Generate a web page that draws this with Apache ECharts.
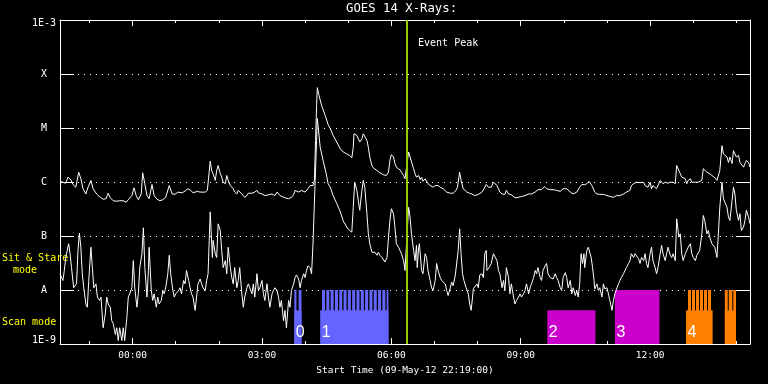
<!DOCTYPE html>
<html><head><meta charset="utf-8">
<script src="https://cdn.jsdelivr.net/npm/echarts@6/dist/echarts.min.js"></script>
<style>html,body{margin:0;padding:0;background:#000;}#c{width:768px;height:384px;}</style>
</head><body><div id="c"></div>
<script>
// ---------- data (time = minutes elapsed since start 09-May-12 22:19:00) ----------
const chartTitle = 'GOES 14 X-Rays:';
const xAxisTitle = 'Start Time (09-May-12 22:19:00)';
const eventLabel = 'Event Peak';
const spanMin = 960;
const majorTickMin = [101, 281, 461, 641, 821];
const majorTickLabels = ['00:00', '03:00', '06:00', '09:00', '12:00'];
const minorTickMin = [41, 161, 221, 341, 401, 521, 581, 701, 761, 881, 941];
const yLevelNames = ['1E-9', 'A', 'B', 'C', 'M', 'X', '1E-3'];

// long channel (upper curve), [minute, W/m^2]
const longChannel = [[0,1.03e-6],[4,0.99e-6],[8,0.95e-6],[11,1.23e-6],[15,1.10e-6],[18,9.0e-7],[22,8.0e-7],[26,1.52e-6],[29,1.15e-6],[32,7.5e-7],[36,6.0e-7],[39,8.0e-7],[43,1.07e-6],[46,7.5e-7],[51,6.0e-7],[56,5.2e-7],[60,4.8e-7],[64,4.9e-7],[67,6.2e-7],[70,5.1e-7],[74,4.5e-7],[79,4.4e-7],[83,4.5e-7],[88,4.5e-7],[92,4.2e-7],[95,4.7e-7],[100,5.6e-7],[103,7.8e-7],[106,5.6e-7],[109,4.7e-7],[113,6.0e-7],[115,1.48e-6],[118,9.3e-7],[121,5.6e-7],[124,4.9e-7],[128,9.0e-7],[131,5.6e-7],[135,4.8e-7],[139,4.5e-7],[143,4.7e-7],[147,5.2e-7],[152,8.6e-7],[156,6.0e-7],[160,5.9e-7],[164,6.5e-7],[170,6.3e-7],[174,6.8e-7],[178,7.5e-7],[182,7.0e-7],[185,6.3e-7],[191,6.7e-7],[195,6.5e-7],[197,6.3e-7],[202,6.5e-7],[205,7.0e-7],[209,2.43e-6],[211,1.63e-6],[213,1.42e-6],[216,1.07e-6],[218,1.63e-6],[220,2.02e-6],[223,1.42e-6],[225,1.23e-6],[227,9.9e-7],[230,9.3e-7],[232,1.32e-6],[234,1.07e-6],[237,8.6e-7],[239,9.3e-7],[241,7.5e-7],[243,6.5e-7],[246,6.0e-7],[248,7.0e-7],[250,7.5e-7],[253,6.0e-7],[255,5.6e-7],[257,5.2e-7],[260,5.6e-7],[262,6.2e-7],[267,6.2e-7],[271,6.5e-7],[274,7.0e-7],[276,6.3e-7],[281,6.0e-7],[285,5.6e-7],[290,5.8e-7],[295,6.0e-7],[299,5.6e-7],[302,6.5e-7],[304,6.0e-7],[306,5.6e-7],[308,5.2e-7],[313,5.1e-7],[318,4.9e-7],[320,4.7e-7],[322,5.2e-7],[325,5.8e-7],[327,7.0e-7],[329,6.5e-7],[332,6.5e-7],[336,7.0e-7],[341,6.5e-7],[345,7.5e-7],[348,8.6e-7],[350,8.0e-7],[352,8.6e-7],[354,1.07e-6],[355.5,5.9e-6],[357,2.6e-5],[358,5.6e-5],[360,4.2e-5],[364,2.6e-5],[369,1.7e-5],[373,1.16e-5],[376,9.7e-6],[380,7.3e-6],[385,5.5e-6],[390,4.1e-6],[394,3.6e-6],[399,3.3e-6],[403,3.1e-6],[406,2.8e-6],[408,4.4e-6],[409,7.8e-6],[413,7.3e-6],[415,6.8e-6],[417,5.5e-6],[420,6.3e-6],[422,7.8e-6],[424,8.4e-6],[427,5.9e-6],[429,4.4e-6],[431,2.9e-6],[434,2.0e-6],[436,1.83e-6],[441,1.63e-6],[445,1.48e-6],[450,1.36e-6],[454,1.32e-6],[457,1.52e-6],[459,2.5e-6],[461,3.2e-6],[464,2.9e-6],[466,2.2e-6],[468,1.88e-6],[473,1.68e-6],[475,1.52e-6],[478,1.32e-6],[480,1.15e-6],[485,3.6e-6],[487,2.9e-6],[489,2.7e-6],[492,1.76e-6],[494,1.42e-6],[496,1.23e-6],[499,1.32e-6],[501,1.10e-6],[503,1.23e-6],[505,1.03e-6],[508,1.15e-6],[510,1.07e-6],[512,9.3e-7],[515,8.6e-7],[519,8.0e-7],[522,8.6e-7],[524,9.3e-7],[526,8.6e-7],[529,8.0e-7],[533,7.5e-7],[538,6.5e-7],[543,6.2e-7],[547,6.2e-7],[551,7.0e-7],[553,8.0e-7],[556,1.52e-6],[558,1.07e-6],[561,7.5e-7],[566,6.5e-7],[570,6.2e-7],[573,6.0e-7],[577,5.6e-7],[582,5.9e-7],[587,6.5e-7],[590,7.5e-7],[593,9.0e-7],[596,8.0e-7],[600,8.0e-7],[603,9.9e-7],[605,9.9e-7],[608,8.6e-7],[610,7.5e-7],[612,6.5e-7],[615,6.0e-7],[617,6.2e-7],[619,5.9e-7],[621,7.0e-7],[624,6.0e-7],[628,5.8e-7],[633,5.1e-7],[638,5.2e-7],[642,5.4e-7],[647,5.6e-7],[652,6.0e-7],[654,5.6e-7],[656,6.0e-7],[661,6.5e-7],[665,7.2e-7],[670,7.2e-7],[674,8.2e-7],[677,7.5e-7],[682,7.2e-7],[686,7.2e-7],[691,7.0e-7],[696,6.7e-7],[700,7.5e-7],[705,7.5e-7],[710,6.5e-7],[714,6.0e-7],[719,6.5e-7],[723,8.0e-7],[726,9.0e-7],[730,8.9e-7],[733,9.3e-7],[736,1.03e-6],[740,8.6e-7],[742,8.0e-7],[744,6.5e-7],[747,6.0e-7],[749,6.5e-7],[751,5.9e-7],[756,5.9e-7],[761,5.6e-7],[765,5.4e-7],[770,5.2e-7],[774,5.6e-7],[779,5.6e-7],[784,6.0e-7],[788,6.5e-7],[793,7.0e-7],[795,8.6e-7],[798,9.3e-7],[802,9.9e-7],[807,9.7e-7],[809,9.3e-7],[812,9.9e-7],[814,8.6e-7],[816,9.3e-7],[818,8.0e-7],[821,9.9e-7],[823,7.5e-7],[825,8.6e-7],[830,7.5e-7],[832,7.0e-7],[835,1.07e-6],[837,9.9e-7],[839,9.3e-7],[842,9.9e-7],[844,1.03e-6],[846,9.5e-7],[849,9.9e-7],[851,9.3e-7],[853,9.9e-7],[856,9.3e-7],[858,2.02e-6],[860,1.88e-6],[863,1.42e-6],[865,1.23e-6],[867,1.32e-6],[870,1.15e-6],[872,9.3e-7],[874,1.07e-6],[877,1.15e-6],[879,9.9e-7],[881,9.5e-7],[884,9.9e-7],[886,9.3e-7],[888,9.9e-7],[890,9.5e-7],[893,1.07e-6],[895,1.76e-6],[897,1.63e-6],[900,1.52e-6],[902,1.63e-6],[904,1.42e-6],[907,1.32e-6],[909,1.23e-6],[911,1.2e-6],[914,1.07e-6],[916,1.15e-6],[918,1.63e-6],[921,4.7e-6],[923,3.3e-6],[925,3.3e-6],[928,2.9e-6],[930,2.3e-6],[932,2.9e-6],[935,2.2e-6],[937,3.8e-6],[939,4.1e-6],[941,2.9e-6],[944,3.1e-6],[946,2.3e-6],[948,2.2e-6],[951,1.88e-6],[953,2.2e-6],[955,2.5e-6],[958,2.3e-6],[960,1.88e-6]];

// short channel (lower curve), [minute, W/m^2]
const shortChannel = [[0,2.0e-8],[4,1.5e-8],[6,2.3e-8],[8,4.0e-8],[12,7.2e-8],[14,4.7e-8],[16,2.6e-8],[19,1.1e-8],[21,1.05e-8],[23,1.3e-8],[25,5.4e-8],[27,1.13e-7],[29,6.2e-8],[31,2.0e-8],[33,1.1e-8],[36,5.5e-9],[38,4.8e-9],[40,1.5e-8],[43,6.2e-8],[45,2.6e-8],[47,1.1e-8],[50,1.3e-8],[52,7.4e-9],[55,6.4e-9],[57,7.4e-9],[60,2.0e-9],[63,3.6e-9],[65,7.4e-9],[67,5.5e-9],[70,4.8e-9],[72,2.7e-9],[74,2.4e-9],[77,1.5e-9],[79,2.0e-9],[81,1.16e-9],[83,2.0e-9],[86,1.16e-9],[88,2.0e-9],[90,1.16e-9],[93,3.1e-9],[95,7.4e-9],[97,8.5e-9],[100,1.1e-8],[102,3.5e-8],[104,1.1e-8],[107,4.8e-9],[109,8.5e-9],[111,2.6e-8],[114,4.7e-8],[116,1.42e-7],[118,2.6e-8],[121,7.4e-9],[123,2.3e-8],[124,6.2e-8],[127,9.8e-9],[129,6.4e-9],[131,8.5e-9],[134,4.8e-9],[136,7.4e-9],[138,5.5e-9],[141,6.4e-9],[143,9.8e-9],[145,8.5e-9],[147,1.1e-8],[150,2.0e-8],[152,4.4e-8],[154,2.0e-8],[157,9.8e-9],[159,7.4e-9],[161,8.5e-9],[165,9.8e-9],[167,1.1e-8],[169,8.5e-9],[172,1.5e-8],[174,1.3e-8],[176,2.3e-8],[179,1.5e-8],[181,1.1e-8],[183,8.5e-9],[185,7.4e-9],[188,4.2e-9],[190,7.4e-9],[192,1.3e-8],[195,1.6e-8],[197,1.3e-8],[199,1.1e-8],[202,9.8e-9],[204,1.5e-8],[206,2.0e-8],[209,2.8e-7],[210,1.46e-7],[212,4.0e-8],[213,8.3e-8],[216,4.7e-8],[218,4.0e-8],[220,1.68e-7],[223,1.26e-7],[225,5.4e-8],[227,2.6e-8],[230,3.5e-8],[232,2.0e-8],[234,6.2e-8],[237,2.6e-8],[239,1.7e-8],[241,1.3e-8],[243,2.6e-8],[246,1.1e-8],[248,1.5e-8],[250,2.6e-8],[253,8.5e-9],[255,4.8e-9],[257,7.4e-9],[260,1.1e-8],[262,1.3e-8],[264,1.1e-8],[267,8.5e-9],[269,1.3e-8],[271,7.4e-9],[274,2.0e-8],[276,9.8e-9],[278,1.1e-8],[281,1.5e-8],[283,8.5e-9],[285,6.4e-9],[288,1.3e-8],[290,7.4e-9],[292,4.8e-9],[295,8.5e-9],[297,9.8e-9],[299,1.1e-8],[302,9.8e-9],[304,7.4e-9],[306,4.8e-9],[308,6.4e-9],[311,2.7e-9],[313,4.2e-9],[315,2.0e-9],[318,6.4e-9],[320,4.8e-9],[322,9.8e-9],[325,1.3e-8],[327,1.7e-8],[329,1.9e-8],[332,1.6e-8],[334,1.1e-8],[336,1.5e-8],[339,2.0e-8],[341,1.7e-8],[343,2.3e-8],[345,2.8e-8],[348,2.6e-8],[350,2.0e-8],[352,7.2e-8],[355,1.07e-6],[357,5.9e-6],[358,1.5e-5],[359,1.11e-5],[362,4.4e-6],[366,2.5e-6],[370,1.5e-6],[373,9.3e-7],[376,8.0e-7],[380,5.6e-7],[385,4.0e-7],[390,2.8e-7],[394,1.9e-7],[399,1.46e-7],[403,1.26e-7],[406,1.18e-7],[408,3.4e-7],[410,9.9e-7],[413,7.0e-7],[415,4.5e-7],[417,3.0e-7],[420,7.0e-7],[422,1.07e-6],[424,8.0e-7],[427,2.6e-7],[429,1.1e-7],[431,7.2e-8],[434,5.0e-8],[436,4.7e-8],[438,5.0e-8],[441,4.4e-8],[443,5.0e-8],[445,4.4e-8],[448,4.0e-8],[450,3.8e-8],[452,3.3e-8],[455,4.0e-8],[457,9.5e-8],[459,1.94e-7],[461,3.2e-7],[464,2.58e-7],[466,1.46e-7],[468,7.2e-8],[471,6.2e-8],[473,5.4e-8],[475,4.7e-8],[478,3.5e-8],[480,2.3e-8],[485,3.4e-7],[487,2.23e-7],[489,1.1e-7],[492,5.4e-8],[494,3.5e-8],[496,6.7e-8],[497,2.6e-8],[499,6.2e-8],[500,7.2e-8],[502,3.5e-8],[503,2.3e-8],[505,2.0e-8],[508,4.7e-8],[510,4.0e-8],[512,2.3e-8],[515,1.5e-8],[517,1.1e-8],[519,9.8e-9],[522,1.5e-8],[524,3.1e-8],[526,2.3e-8],[529,1.7e-8],[531,1.5e-8],[533,1.5e-8],[536,1.3e-8],[538,9.8e-9],[540,7.9e-9],[543,1.1e-8],[545,1.4e-8],[547,1.2e-8],[550,1.9e-8],[552,2.0e-8],[554,5.4e-8],[556,1.36e-7],[558,4.7e-8],[560,2.0e-8],[562,1.5e-8],[565,1.1e-8],[568,8.5e-9],[570,5.5e-9],[572,4.2e-9],[574,7.4e-9],[575,1.05e-8],[577,1.05e-8],[580,1.3e-8],[582,1.1e-8],[584,1.9e-8],[587,2.0e-8],[589,1.7e-8],[591,4.7e-8],[593,5.4e-8],[594,2.3e-8],[597,2.6e-8],[600,3.1e-8],[603,4.7e-8],[605,4.7e-8],[608,3.5e-8],[610,2.3e-8],[612,2.0e-8],[615,1.1e-8],[617,1.5e-8],[619,9.8e-9],[621,2.6e-8],[624,1.7e-8],[626,8.5e-9],[628,1.3e-8],[631,7.4e-9],[633,5.5e-9],[635,6.4e-9],[638,7.4e-9],[640,8.5e-9],[642,7.4e-9],[645,8.5e-9],[647,9.8e-9],[649,1.3e-8],[652,8.5e-9],[654,1.1e-8],[656,1.3e-8],[659,1.7e-8],[661,2.3e-8],[663,2.0e-8],[665,2.6e-8],[668,1.7e-8],[670,1.5e-8],[672,2.3e-8],[675,2.8e-8],[677,3.1e-8],[679,2.0e-8],[682,1.7e-8],[684,1.7e-8],[686,1.6e-8],[689,2.0e-8],[691,1.7e-8],[693,1.5e-8],[696,1.1e-8],[698,9.8e-9],[700,1.7e-8],[703,2.1e-8],[705,1.7e-8],[707,1.1e-8],[710,1.5e-8],[712,8.5e-9],[714,1.1e-8],[717,7.9e-9],[719,9.8e-9],[721,7.4e-9],[723,1.3e-8],[725,4.7e-8],[727,3.1e-8],[729,4.7e-8],[730,2.6e-8],[733,5.4e-8],[735,6.2e-8],[736,6.7e-8],[739,4.0e-8],[741,2.6e-8],[743,1.5e-8],[744,1.05e-8],[747,1.3e-8],[749,9.8e-9],[751,1.1e-8],[754,7.4e-9],[756,1.3e-8],[758,1.05e-8],[761,1.1e-8],[763,8.5e-9],[765,6.4e-9],[768,4.2e-9],[770,6.4e-9],[772,8.5e-9],[775,1.1e-8],[777,1.3e-8],[779,1.5e-8],[781,1.7e-8],[784,2.0e-8],[786,2.1e-8],[788,2.6e-8],[791,3.1e-8],[793,3.5e-8],[795,4.7e-8],[798,4.0e-8],[800,4.7e-8],[802,4.4e-8],[805,3.8e-8],[807,3.1e-8],[809,4.0e-8],[812,3.5e-8],[814,4.7e-8],[816,3.1e-8],[818,2.6e-8],[821,4.7e-8],[823,6.2e-8],[825,3.5e-8],[828,2.6e-8],[830,2.0e-8],[832,2.6e-8],[835,4.7e-8],[837,6.7e-8],[839,4.7e-8],[842,3.5e-8],[844,4.7e-8],[846,6.2e-8],[849,4.4e-8],[851,4.0e-8],[853,4.7e-8],[856,3.5e-8],[858,2.08e-7],[859,2.23e-7],[861,9.5e-8],[863,1.1e-7],[865,4.7e-8],[867,3.5e-8],[870,4.7e-8],[872,5.4e-8],[874,6.2e-8],[877,7.2e-8],[879,4.7e-8],[881,4.0e-8],[884,3.5e-8],[886,4.4e-8],[888,4.7e-8],[890,5.4e-8],[893,1.1e-7],[895,2.4e-7],[897,1.94e-7],[900,1.1e-7],[902,1.26e-7],[904,9.5e-8],[907,7.2e-8],[909,6.7e-8],[911,6.2e-8],[914,4.0e-8],[916,1.1e-7],[918,3.4e-7],[921,9.9e-7],[923,4.9e-7],[925,4.5e-7],[928,3.4e-7],[930,2.23e-7],[932,1.94e-7],[935,4.5e-7],[937,8.0e-7],[939,6.0e-7],[941,3.0e-7],[944,1.94e-7],[946,2.58e-7],[948,1.26e-7],[951,1.46e-7],[953,1.94e-7],[955,3.0e-7],[958,2.23e-7],[960,1.68e-7]];

const eventPeakMin = [482.8];

// observing modes: [startMin, endMin, colourIndex]
const modeColors = ['#6464ff', '#cc00cc', '#ff8000'];
const scanLevel = 4.2e-9;
const sitStareLevel = 1e-8;
const scanBlocks = [[326,336,0],[362,457,0],[678,745,1],[871,908,2],[925,940.5,2]];
const sitStareBlocks = [[326,329,0],[332,336,0],
  [364.5,368.7,0],[370.5,374.7,0],[376.5,380.7,0],[382.5,386.7,0],[388.5,392.7,0],[394.5,398.7,0],[400.5,404.7,0],[406.5,410.7,0],
  [412.5,416.7,0],[418.5,422.7,0],[424.5,428.7,0],[430.5,434.7,0],[436.5,440.7,0],[442.5,446.7,0],[448.5,452.7,0],[454.5,457,0],
  [772,834,1],
  [873.7,877.9,2],[879.3,883.5,2],[884.9,889.1,2],[890.4,894.6,2],[896,900.2,2],[901.6,905.8,2],
  [925,929,2],[930.4,935.4,2],[936.8,940.5,2]];
const groupLabels = ['0', '1', '2', '3', '4'];
const groupStartMin = [326, 362, 678, 772, 871];

// ---------- chart ----------
const MONO = '"DejaVu Sans Mono", monospace';
const Y_MIN = 1e-9, Y_MAX = 1e-3;
const chart = echarts.init(document.getElementById('c'), null, {renderer: 'canvas'});

function blockSeries(blocks, level, z) {
  return {
    type: 'custom', silent: true, z: z, clip: true,
    data: blocks.map(b => [b[0], b[1], level, b[2]]),
    encode: {x: [0, 1], y: 2},
    renderItem: (params, api) => {
      const p0 = api.coord([api.value(0), api.value(2)]);
      const p1 = api.coord([api.value(1), Y_MIN]);
      return {type: 'rect', shape: {x: p0[0], y: p0[1], width: p1[0] - p0[0], height: p1[1] - p0[1]},
        style: {fill: modeColors[api.value(3)]}};
    }
  };
}

function xAxisDef(pos, ticks, len, withLabels, withLine) {
  const a = {
    type: 'value', min: 0, max: spanMin, position: pos,
    axisLine: {show: withLine, onZero: false, lineStyle: {color: '#fff', width: 1}},
    axisTick: {show: true, inside: true, length: len, customValues: ticks, lineStyle: {color: '#fff', width: 1}},
    axisLabel: {show: withLabels},
    splitLine: {show: false}
  };
  if (withLabels) {
    a.axisLabel = {show: true, customValues: ticks, color: '#fff', fontSize: 9.5, fontFamily: MONO, margin: 7,
      formatter: v => majorTickLabels[majorTickMin.indexOf(Math.round(v))] || ''};
    a.name = xAxisTitle; a.nameLocation = 'middle'; a.nameGap = 21;
    a.nameTextStyle = {color: '#fff', fontSize: 9.5, fontFamily: MONO};
  }
  return a;
}

function yAxisDef(pos, withLabels) {
  const lbl = {fontSize: 10, fontFamily: MONO, color: '#fff'};
  return {
    type: 'log', logBase: 10, min: Y_MIN, max: Y_MAX, splitNumber: 6, position: pos,
    axisLine: {show: true, onZero: false, lineStyle: {color: '#fff', width: 1}},
    axisTick: {show: true, inside: true, length: 14, lineStyle: {color: '#fff', width: 1}},
    minorTick: {show: false},
    axisLabel: withLabels ? {
      show: true, margin: 4,
      formatter: v => {
        const k = Math.round(Math.log10(v)) + 9;
        const name = yLevelNames[k];
        if (k === 6) return '{t|' + name + '}';
        if (k === 0) return '{b|' + name + '}';
        return '{l|' + name + '}';
      },
      rich: {
        t: Object.assign({padding: [6, 0, 0, 0]}, lbl),
        b: Object.assign({padding: [0, 0, 8, 0]}, lbl),
        l: Object.assign({padding: [0, 9, 0, 0]}, lbl)
      }
    } : {show: false},
    splitLine: {show: withLabels, lineStyle: {color: '#fff', width: 1, type: [1, 5]}}
  };
}

const option = {
  backgroundColor: '#000',
  animation: false,
  title: {text: chartTitle, left: 346, top: 3, padding: 0,
    textStyle: {color: '#fff', fontSize: 12.3, fontWeight: 'normal', fontFamily: MONO}},
  grid: {left: 60, right: 18, top: 20, bottom: 40, containLabel: false},
  xAxis: [
    xAxisDef('bottom', majorTickMin, 6, true, true),
    xAxisDef('bottom', minorTickMin, 3, false, false),
    xAxisDef('top', majorTickMin, 6, false, true),
    xAxisDef('top', minorTickMin, 3, false, false)
  ],
  yAxis: [yAxisDef('left', true), yAxisDef('right', false)],
  graphic: [
    {type: 'text', left: 2, top: 253, style: {text: 'Sit & Stare', fill: '#ffff00', fontSize: 10, fontFamily: MONO}},
    {type: 'text', left: 13, top: 265, style: {text: 'mode', fill: '#ffff00', fontSize: 10, fontFamily: MONO}},
    {type: 'text', left: 2, top: 317, style: {text: 'Scan mode', fill: '#ffff00', fontSize: 10, fontFamily: MONO}}
  ],
  series: [
    blockSeries(scanBlocks, scanLevel, 1),
    blockSeries(sitStareBlocks, sitStareLevel, 1),
    {
      type: 'custom', silent: true, z: 2, clip: false,
      data: groupStartMin.map((t, i) => [t, Y_MIN, i]),
      encode: {x: 0, y: 1},
      renderItem: (params, api) => {
        const pt = api.coord([api.value(0), Y_MIN]);
        return {type: 'text', x: pt[0] + 1.5, y: pt[1] - 3,
          style: {text: groupLabels[api.value(2)], fill: '#fff', fontSize: 16, fontFamily: '"Liberation Sans", sans-serif',
            align: 'left', verticalAlign: 'bottom'}};
      }
    },
    {type: 'line', name: 'long', data: longChannel, showSymbol: false, symbol: 'none', z: 5,
      lineStyle: {color: '#fff', width: 1}, clip: true},
    {type: 'line', name: 'short', data: shortChannel, showSymbol: false, symbol: 'none', z: 5,
      lineStyle: {color: '#fff', width: 1}, clip: true},
    {
      type: 'custom', silent: true, z: 10, clip: false,
      data: eventPeakMin.map(t => [t, Y_MAX]),
      encode: {x: 0, y: 1},
      renderItem: (params, api) => {
        const top = api.coord([api.value(0), Y_MAX]);
        const bot = api.coord([api.value(0), Y_MIN]);
        return {type: 'group', children: [
          {type: 'line', shape: {x1: top[0], y1: top[1], x2: bot[0], y2: bot[1]}, style: {stroke: '#99cc00', lineWidth: 2}},
          {type: 'text', x: top[0] + 11, y: top[1] + 23,
            style: {text: eventLabel, fill: '#fff', fontSize: 10, fontFamily: MONO, verticalAlign: 'middle'}}
        ]};
      }
    }
  ]
};
chart.setOption(option);
</script></body></html>
